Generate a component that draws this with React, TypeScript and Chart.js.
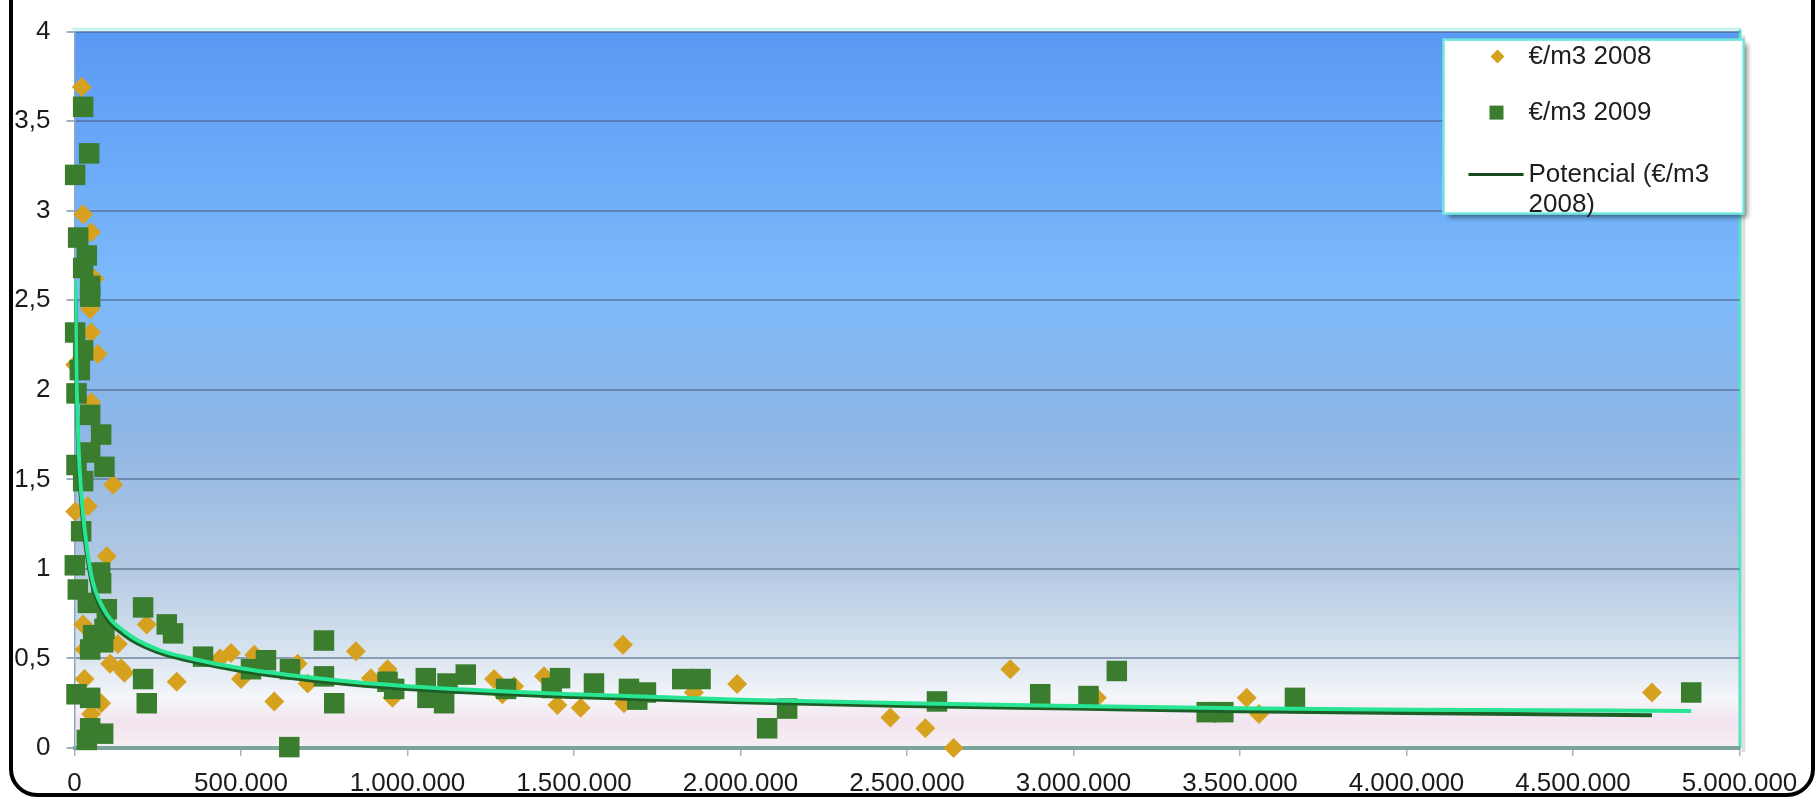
import React, { useEffect, useRef } from 'react';
import { Chart, registerables } from 'chart.js';

Chart.register(...registerables);

const W = 1819;
const H = 798;

const seriesLabels = ['€/m3 2008', '€/m3 2009', 'Potencial (€/m3 2008)', 'Potencial (€/m3 2009)'];

const x2008 = [22000, 26000, 50000, 60000, 47000, 50000, 70000, 2000, 50000, 116000, 2000, 40000, 97000, 217000, 26000, 130000, 30000, 107000, 140000, 150000, 437000, 470000, 307000, 30000, 80000, 50000, 540000, 500000, 600000, 670000, 700000, 845000, 890000, 940000, 955000, 1260000, 1320000, 1285000, 1410000, 1450000, 1520000, 1647000, 1650000, 1860000, 1990000, 2450000, 2555000, 2640000, 2810000, 3070000, 3520000, 3557000, 4737000];
const y2008 = [3.69, 2.98, 2.88, 2.62, 2.45, 2.32, 2.2, 2.14, 1.93, 1.47, 1.32, 1.35, 1.07, 0.69, 0.69, 0.58, 0.55, 0.47, 0.445, 0.42, 0.5, 0.53, 0.37, 0.385, 0.25, 0.19, 0.52, 0.385, 0.26, 0.47, 0.36, 0.54, 0.39, 0.44, 0.28, 0.385, 0.345, 0.3, 0.4, 0.24, 0.225, 0.577, 0.25, 0.31, 0.357, 0.17, 0.11, 0.0, 0.44, 0.28, 0.28, 0.19, 0.31];

const x2009 = [26000, 44000, 2000, 11000, 37000, 26000, 47000, 47000, 2000, 26000, 16000, 6000, 47000, 80000, 47000, 90000, 6000, 26000, 20000, 1000, 10000, 77000, 80000, 40000, 97000, 90000, 206000, 277000, 296000, 56000, 86000, 47000, 386000, 206000, 217000, 6000, 47000, 47000, 86000, 37000, 530000, 575000, 647000, 645000, 749000, 749000, 780000, 940000, 960000, 1055000, 1060000, 1110000, 1120000, 1175000, 1296000, 1433000, 1458000, 1560000, 1665000, 1716000, 1690000, 1825000, 1880000, 2080000, 2140000, 2590000, 2900000, 3045000, 3130000, 3400000, 3450000, 3665000, 4855000];
const y2009 = [3.58, 3.32, 3.2, 2.85, 2.75, 2.68, 2.58, 2.52, 2.32, 2.22, 2.11, 1.98, 1.86, 1.75, 1.65, 1.57, 1.58, 1.49, 1.21, 1.02, 0.885, 0.98, 0.92, 0.81, 0.775, 0.665, 0.785, 0.69, 0.64, 0.63, 0.59, 0.55, 0.51, 0.385, 0.25, 0.3, 0.28, 0.11, 0.08, 0.045, 0.44, 0.49, 0.44, 0.005, 0.6, 0.4, 0.25, 0.37, 0.33, 0.39, 0.28, 0.25, 0.36, 0.41, 0.33, 0.335, 0.39, 0.36, 0.33, 0.31, 0.27, 0.385, 0.385, 0.11, 0.22, 0.26, 0.3, 0.29, 0.43, 0.2, 0.2, 0.28, 0.31];

const trend2008X = [3000, 5000, 10000, 15000, 25000, 50000, 85000, 150000, 250000, 350000, 500000, 750000, 1000000, 1500000, 2000000, 2500000, 3000000, 3500000, 4000000, 4737000];
const trend2008Y = [2.5, 2.12, 1.74, 1.52, 1.27, 0.94, 0.76, 0.63, 0.535, 0.485, 0.43, 0.37, 0.33, 0.285, 0.255, 0.235, 0.22, 0.205, 0.195, 0.183];

const trend2009X = [2500, 5000, 10000, 15000, 25000, 50000, 85000, 150000, 250000, 350000, 500000, 750000, 1000000, 1500000, 2000000, 2500000, 3000000, 3500000, 4000000, 4855000];
const trend2009Y = [2.61, 2.17, 1.8, 1.57, 1.32, 0.97, 0.785, 0.65, 0.55, 0.5, 0.445, 0.385, 0.345, 0.3, 0.27, 0.25, 0.235, 0.222, 0.214, 0.207];

const xTickValues = [0, 500000, 1000000, 1500000, 2000000, 2500000, 3000000, 3500000, 4000000, 4500000, 5000000];
const xTickLabels = ['0', '500.000', '1.000.000', '1.500.000', '2.000.000', '2.500.000', '3.000.000', '3.500.000', '4.000.000', '4.500.000', '5.000.000'];
const yTickValues = [0, 0.5, 1, 1.5, 2, 2.5, 3, 3.5, 4];
const yTickLabels = ['0', '0,5', '1', '1,5', '2', '2,5', '3', '3,5', '4'];

const COL_2008 = '#d6a11e';
const COL_2009 = '#3b7d2e';
const COL_TREND08 = '#1d5e26';
const COL_TREND09 = '#27e592';
const FONT = '"Liberation Sans", Arial, sans-serif';

const pts = (xs: number[], ys: number[]) => xs.map((x, i) => ({ x, y: ys[i] }));

const backgroundPlugin = {
  id: 'plotBg',
  beforeDraw(chart: any) {
    const { ctx, chartArea } = chart;
    const { left, top, right, bottom } = chartArea;
    const g = ctx.createLinearGradient(0, top, 0, bottom);
    g.addColorStop(0, '#5a99f4');
    g.addColorStop(0.35, '#7bbafb');
    g.addColorStop(0.55, '#8db5e5');
    g.addColorStop(0.75, '#b3c9e3');
    g.addColorStop(0.87, '#d9e4ef');
    g.addColorStop(0.93, '#f4f6fa');
    g.addColorStop(0.965, '#f2e4ee');
    g.addColorStop(1, '#f6f0f4');
    ctx.save();
    ctx.fillStyle = g;
    ctx.fillRect(left, top, right - left, bottom - top);
    // light top border
    ctx.fillStyle = '#c4f5ee';
    ctx.fillRect(left - 2, top - 4, right - left + 4, 3);
    // right aquamarine border with shadow
    ctx.fillStyle = 'rgba(0,0,0,0.12)';
    ctx.fillRect(right + 2, top + 4, 4, bottom - top);
    ctx.fillStyle = '#58e2c6';
    ctx.fillRect(right - 1, top - 2, 3, bottom - top + 2);
    ctx.restore();
  },
};

function wrapText(ctx: CanvasRenderingContext2D, text: string, maxW: number) {
  const words = text.split(' ');
  const lines: string[] = [];
  let cur = '';
  for (const w of words) {
    const test = cur ? cur + ' ' + w : w;
    if (ctx.measureText(test).width > maxW && cur) {
      lines.push(cur);
      cur = w;
    } else cur = test;
  }
  if (cur) lines.push(cur);
  return lines;
}

const overlayPlugin = {
  id: 'overlay',
  afterDraw(chart: any) {
    const { ctx, chartArea } = chart;
    const { right, top } = chartArea;
    ctx.save();
    // legend box
    const lx = right - 296;
    const ly = top + 8;
    const lw = 300;
    const lh = 174;
    ctx.save();
    ctx.shadowColor = 'rgba(0,0,0,0.45)';
    ctx.shadowOffsetX = 4;
    ctx.shadowOffsetY = 4;
    ctx.shadowBlur = 5;
    ctx.fillStyle = '#ffffff';
    ctx.fillRect(lx, ly, lw, lh);
    ctx.restore();
    ctx.strokeStyle = '#6fe8da';
    ctx.lineWidth = 2.5;
    ctx.strokeRect(lx, ly, lw, lh);

    const ds = chart.data.datasets;
    const textX = lx + 85;
    ctx.font = `26px ${FONT}`;
    ctx.fillStyle = '#1e1e1e';
    ctx.textBaseline = 'middle';
    ctx.textAlign = 'left';
    // item 1: diamond
    const y1 = ly + 17;
    ctx.fillStyle = ds[0].backgroundColor;
    ctx.beginPath();
    ctx.moveTo(lx + 54 - 7, y1);
    ctx.lineTo(lx + 54, y1 - 7);
    ctx.lineTo(lx + 54 + 7, y1);
    ctx.lineTo(lx + 54, y1 + 7);
    ctx.closePath();
    ctx.fill();
    ctx.fillStyle = '#1e1e1e';
    ctx.fillText(ds[0].label, textX, y1);
    // item 2: square
    const y2 = ly + 73;
    ctx.fillStyle = ds[1].backgroundColor;
    ctx.fillRect(lx + 53 - 7, y2 - 7, 14, 14);
    ctx.fillStyle = '#1e1e1e';
    ctx.fillText(ds[1].label, textX, y2);
    // item 3: line
    const y3 = ly + 135;
    ctx.strokeStyle = '#1b4a1e';
    ctx.lineWidth = 3;
    ctx.beginPath();
    ctx.moveTo(lx + 25, y3);
    ctx.lineTo(lx + 80, y3);
    ctx.stroke();
    ctx.fillStyle = '#1e1e1e';
    const lines = wrapText(ctx, ds[2].label, lx + lw - textX - 8);
    lines.forEach((t, i) => ctx.fillText(t, textX, y3 + i * 30));

    // outer rounded frame
    ctx.strokeStyle = '#000000';
    ctx.lineWidth = 4;
    ctx.beginPath();
    const fx = 11, fy = -40, fw = 1802, fh = 835, r = 26;
    ctx.moveTo(fx + r, fy);
    ctx.lineTo(fx + fw - r, fy);
    ctx.arcTo(fx + fw, fy, fx + fw, fy + r, r);
    ctx.lineTo(fx + fw, fy + fh - r);
    ctx.arcTo(fx + fw, fy + fh, fx + fw - r, fy + fh, r);
    ctx.lineTo(fx + r, fy + fh);
    ctx.arcTo(fx, fy + fh, fx, fy + fh - r, r);
    ctx.lineTo(fx, fy + r);
    ctx.arcTo(fx, fy, fx + r, fy, r);
    ctx.closePath();
    ctx.stroke();
    ctx.restore();
  },
};

export default function App() {
  const ref = useRef<HTMLCanvasElement | null>(null);

  useEffect(() => {
    if (!ref.current) return;
    const chart = new Chart(ref.current, {
      type: 'scatter',
      data: {
        datasets: [
          {
            label: seriesLabels[0],
            data: pts(x2008, y2008),
            backgroundColor: COL_2008,
            borderColor: COL_2008,
            pointStyle: 'rectRot',
            pointRadius: 10,
            borderWidth: 0,
            clip: false,
            order: 4,
          } as any,
          {
            label: seriesLabels[1],
            data: pts(x2009, y2009),
            backgroundColor: COL_2009,
            borderColor: COL_2009,
            pointStyle: 'rect',
            pointRadius: 14.5,
            borderWidth: 0,
            clip: false,
            order: 3,
          } as any,
          {
            label: seriesLabels[2],
            data: pts(trend2008X, trend2008Y),
            showLine: true,
            borderColor: COL_TREND08,
            backgroundColor: COL_TREND08,
            borderWidth: 4,
            pointRadius: 0,
            cubicInterpolationMode: 'monotone',
            fill: false,
            order: 2,
          } as any,
          {
            label: seriesLabels[3],
            data: pts(trend2009X, trend2009Y),
            showLine: true,
            borderColor: COL_TREND09,
            backgroundColor: COL_TREND09,
            borderWidth: 4,
            pointRadius: 0,
            cubicInterpolationMode: 'monotone',
            fill: false,
            order: 1,
          } as any,
        ],
      },
      options: {
        responsive: false,
        animation: false,
        events: [],
        devicePixelRatio: 1,
        layout: {
          autoPadding: false,
          padding: { left: 0, top: 20, right: 79.5, bottom: 0 },
        } as any,
        plugins: {
          legend: { display: false },
          tooltip: { enabled: false },
          title: { display: false },
        },
        scales: {
          x: {
            type: 'linear',
            min: 0,
            max: 5000000,
            afterBuildTicks: (s: any) => {
              s.ticks = xTickValues.map((v) => ({ value: v }));
            },
            afterFit: (s: any) => {
              s.height = 50;
            },
            ticks: {
              autoSkip: false,
              maxRotation: 0,
              padding: 12,
              color: '#1b1b1b',
              font: { family: FONT, size: 26 },
              callback: (v: any) => xTickLabels[xTickValues.indexOf(Number(v))] ?? '',
            },
            grid: {
              drawOnChartArea: false,
              drawTicks: true,
              tickLength: 8,
              tickColor: '#a9b6b6',
              lineWidth: 1.5,
            },
            border: { display: true, color: '#79a39b', width: 4 },
          },
          y: {
            type: 'linear',
            min: 0,
            max: 4,
            afterBuildTicks: (s: any) => {
              s.ticks = yTickValues.map((v) => ({ value: v }));
            },
            afterFit: (s: any) => {
              s.width = 74.5;
            },
            ticks: {
              padding: 16,
              color: '#1b1b1b',
              font: { family: FONT, size: 26 },
              callback: (v: any) => yTickLabels[yTickValues.indexOf(Number(v))] ?? '',
            },
            grid: {
              color: 'rgba(72,96,130,0.55)',
              lineWidth: 2,
              tickLength: 8,
              tickColor: '#9fb0c2',
            },
            border: { display: true, color: '#8da6c2', width: 1.5 },
          },
        },
      } as any,
      plugins: [backgroundPlugin, overlayPlugin],
    });
    return () => chart.destroy();
  }, []);

  return (
    <div style={{ position: 'absolute', left: 0, top: 0, width: W, height: H, background: '#ffffff' }}>
      <canvas ref={ref} width={W} height={H} style={{ width: W, height: H, display: 'block' }} />
    </div>
  );
}
